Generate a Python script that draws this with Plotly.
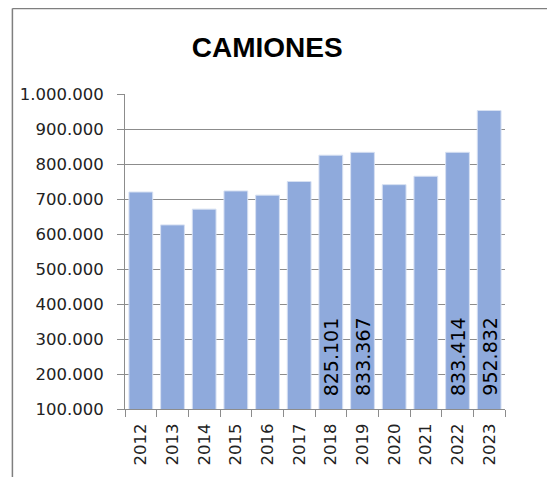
import plotly.graph_objects as go

# datos
anios = ['2012', '2013', '2014', '2015', '2016', '2017',
         '2018', '2019', '2020', '2021', '2022', '2023']
camiones = [720000, 626000, 671000, 723000, 711000, 750000,
            825101, 833367, 741000, 765000, 833414, 952832]
con_etiqueta = ['2018', '2019', '2022', '2023']
base_eje = 100000

fuente = 'DejaVu Sans'
gris = '#8C8C8C'

fig = go.Figure()
fig.add_trace(
    go.Bar(
        x=anios,
        y=camiones,
        marker=dict(color='#8FAADC', line=dict(color='#D6E0F2', width=1)),
        width=0.75,
        showlegend=False,
        hoverinfo='x+y',
    )
)

# etiquetas de datos (verticales, en la base de la barra)
# en eje de categorias los años numericos se toman como indice -> usar posicion
for i, (a, v) in enumerate(zip(anios, camiones)):
    if a in con_etiqueta:
        fig.add_annotation(
            x=i, y=base_eje,
            text=f'{v:,}'.replace(',', '.'),
            textangle=-90,
            xanchor='center', yanchor='bottom',
            yshift=11,
            showarrow=False,
            font=dict(family=fuente, size=19, color='black'),
        )

fig.update_layout(
    width=555, height=477,
    margin=dict(l=114, r=58, t=86, b=76),
    paper_bgcolor='white',
    plot_bgcolor='white',
    separators=',.',
    title=dict(
        text='<b>CAMIONES</b>',
        x=0.467, xanchor='center',
        y=0.918, yanchor='middle',
        font=dict(family='Liberation Sans', size=28, color='black'),
    ),
    font=dict(family=fuente, size=16.5, color='#222222'),
)
fig.update_yaxes(
    range=[base_eje, 1000000],
    dtick=100000,
    tickformat=',.0f',
    showgrid=True, gridcolor=gris, gridwidth=1,
    showline=True, linecolor=gris, linewidth=1,
    ticks='outside', ticklen=7, tickcolor=gris,
    ticklabelstandoff=10,
    zeroline=False,
)
fig.update_xaxes(
    type='category',
    range=[-0.5, len(anios) - 0.5],
    tickangle=-90,
    showline=True, linecolor=gris, linewidth=1,
    ticks='outside', ticklen=7, tickcolor=gris,
    tickson='boundaries',
    ticklabelstandoff=7,
    showgrid=False,
)

# marco del grafico
fig.add_shape(type='line', xref='paper', yref='paper',
              x0=-0.2963, x1=1.2, y0=1.2714, y1=1.2714,
              line=dict(color='#7F7F7F', width=1.5))
fig.add_shape(type='line', xref='paper', yref='paper',
              x0=-0.2963, x1=-0.2963, y0=1.2714, y1=-0.3,
              line=dict(color='#7F7F7F', width=1.5))

fig.write_html('out.html')
